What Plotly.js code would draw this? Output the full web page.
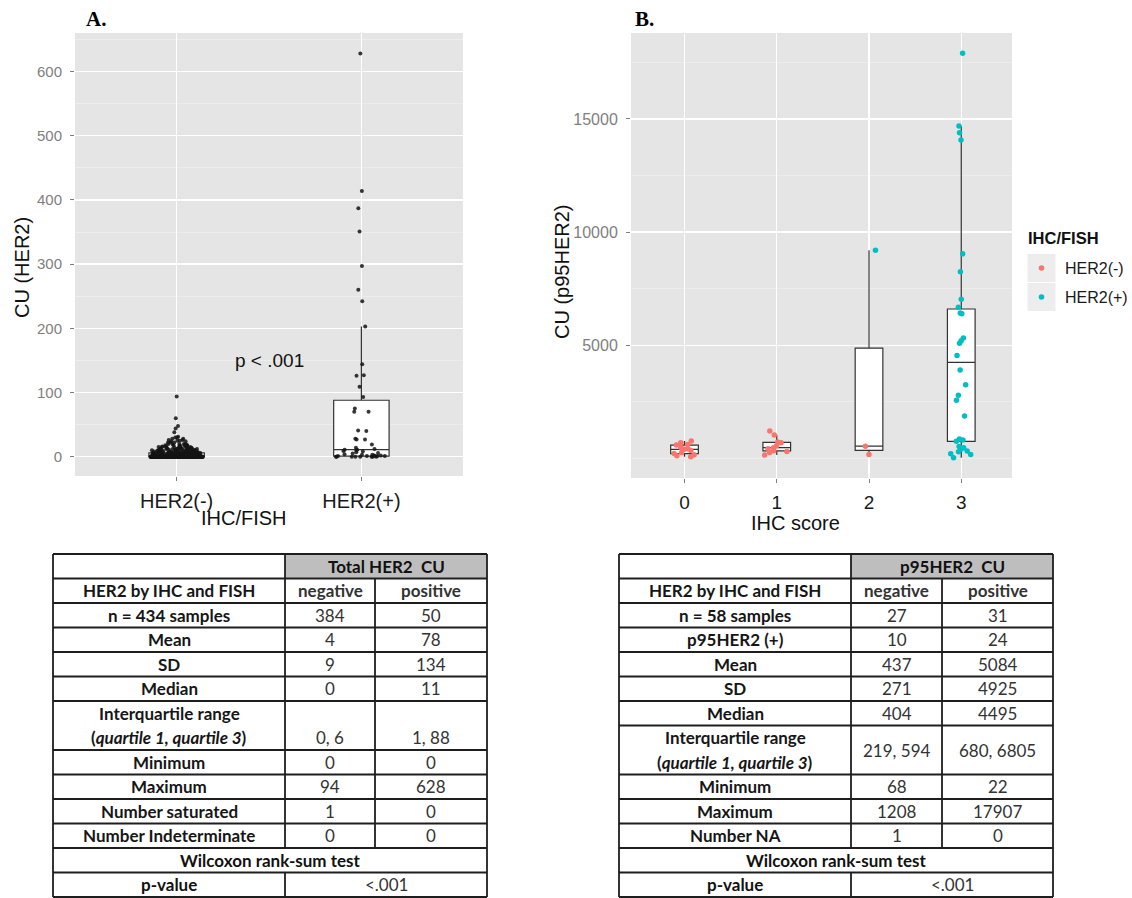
<!DOCTYPE html>
<html><head><meta charset="utf-8">
<script src="https://cdn.plot.ly/plotly-3.0.1.min.js"></script>
<style>body{margin:0;background:#fff}#chart{width:1132px;height:898px}</style>
</head><body><div id="chart"></div>
<script>
// ================= DATA =================
// Panel A: total HER2 CU by IHC/FISH status
const groupsA = ['HER2(-)', 'HER2(+)'];
// HER2(-) sample values as a frequency table (value, count) - 384 samples
const negValuesA = [0,1,2,3,4,5,6,7,8,9,10,11,12,13,14,15,16,17,18,19,20,22,24,25,26,28,30,31,38,44,48,60,94];
const negCountsA = [195,20,18,15,12,12,16,9,9,8,8,6,6,5,5,5,4,3,3,3,3,3,2,2,2,2,2,1,1,1,1,1,1];
// HER2(+) sample values - 50 samples
const posValuesA = [0,0,0,0,0,0,0,0,1,1,1,1,1,2,2,3,3,4,5,6,7,8,9,10,11,11,12,14,19,27,27,28,40,41,70,70,75,93,109,126,127,144,203,242,260,297,351,387,414,628];
// Box statistics A
const q1A = [0, 1];
const medianA = [0, 11];
const q3A = [6, 88];
const lowerA = [0, 0];
const upperA = [15, 203];
const pTextA = 'p < .001';
const yTicksA = [0, 100, 200, 300, 400, 500, 600];

// Panel B: p95HER2 CU by IHC score
const scoresB = ['0', '1', '2', '3'];
const redB0 = [68,110,160,210,260,340,395,420,480,585,610,690,760];
const redB1 = [140,250,300,330,420,470,550,690,720,1030,1208];
const redB2 = [168,533];
const tealB2 = [9200];
const tealB3 = [22,170,200,290,320,400,470,520,750,810,850,1870,2560,2790,3250,3900,4540,5080,5200,5320,6390,6420,6680,7030,8250,9040,14070,14390,14690,17907];
const q1B = [210, 323, 350, 747];
const medianB = [395, 470, 533, 4237];
const q3B = [585, 705, 4866, 6600];
const lowerB = [68, 140, 168, 22];
const upperB = [760, 1030, 9200, 14690];
const yTicksB = [5000, 10000, 15000];
const yTickTextB = ['5000', '10000', '15000'];
const legendTitleB = 'IHC/FISH';
const legendLabelsB = ['HER2(-)', 'HER2(+)'];

// Tables
const headerTA = 'Total HER2  CU';
const labelsTA = ['HER2 by IHC and FISH','n = 434 samples','Mean','SD','Median','Interquartile range<br>(<i>quartile 1, quartile 3</i>)','Minimum','Maximum','Number saturated','Number Indeterminate'];
const negTA = ['negative','384','4','9','0','0, 6','0','94','1','0'];
const posTA = ['positive','50','78','134','11','1, 88','0','628','0','0'];
const testTA = 'Wilcoxon rank-sum test';
const pRowTA = ['p-value', '<.001'];

const headerTB = 'p95HER2  CU';
const labelsTB = ['HER2 by IHC and FISH','n = 58 samples','p95HER2 (+)','Mean','SD','Median','Interquartile range<br>(<i>quartile 1, quartile 3</i>)','Minimum','Maximum','Number NA'];
const negTB = ['negative','27','10','437','271','404','219, 594','68','1208','1'];
const posTB = ['positive','31','24','5084','4925','4495','680, 6805','22','17907','0'];
const testTB = 'Wilcoxon rank-sum test';
const pRowTB = ['p-value', '<.001'];

// ================= BUILD =================
const W = 1132, H = 898;
const px = x => x / W;
const py = y => 1 - y / H;
const RED = '#F8766D', TEAL = '#00BFC4';
const SANS = 'Liberation Sans, Arial, sans-serif';
const TFONT = 'Lato, Open Sans, sans-serif';

function rep(v, n) { return Array.from({length: n}, () => v); }
const negSamplesA = [];
negValuesA.forEach((v, i) => { for (let k = 0; k < negCountsA[i]; k++) negSamplesA.push(v); });

const boxStyle = {type: 'box', fillcolor: '#FFFFFF', line: {color: '#333333', width: 1.2},
  whiskerwidth: 0, width: 0.3, hoverinfo: 'skip', showlegend: false};
const ptsStyle = {type: 'box', boxpoints: 'all', pointpos: 0, width: 0.3,
  fillcolor: 'rgba(0,0,0,0)', line: {color: 'rgba(0,0,0,0)', width: 0},
  whiskerwidth: 0, showlegend: false, hoveron: 'points'};

const traces = [
  Object.assign({}, boxStyle, {x: groupsA, q1: q1A, median: medianA, q3: q3A,
    lowerfence: lowerA, upperfence: upperA, xaxis: 'x', yaxis: 'y'}),
  Object.assign({}, ptsStyle, {x: rep(groupsA[0], negSamplesA.length).concat(rep(groupsA[1], posValuesA.length)),
    y: negSamplesA.concat(posValuesA), jitter: 0.95,
    marker: {color: 'rgba(20,20,20,0.85)', size: 4}, xaxis: 'x', yaxis: 'y'}),
  Object.assign({}, boxStyle, {x: scoresB, q1: q1B, median: medianB, q3: q3B,
    lowerfence: lowerB, upperfence: upperB, xaxis: 'x2', yaxis: 'y2'}),
  Object.assign({}, ptsStyle, {
    x: rep(scoresB[0], redB0.length).concat(rep(scoresB[1], redB1.length), rep(scoresB[2], redB2.length)),
    y: redB0.concat(redB1, redB2), jitter: 0.9,
    marker: {color: RED, size: 5.5}, xaxis: 'x2', yaxis: 'y2', name: legendLabelsB[0]}),
  Object.assign({}, ptsStyle, {
    x: rep(scoresB[2], tealB2.length).concat(rep(scoresB[3], tealB3.length)),
    y: tealB2.concat(tealB3), jitter: 0.9,
    marker: {color: TEAL, size: 5.5}, xaxis: 'x2', yaxis: 'y2', name: legendLabelsB[1]})
];

const shapes = [];
const annotations = [];
function ann(text, x, y, o) {
  o = o || {};
  annotations.push({text: text, x: px(x), y: py(y), xref: 'paper', yref: 'paper', showarrow: false,
    xanchor: o.xanchor || 'center', yanchor: o.yanchor || 'middle', textangle: o.angle || 0,
    font: {family: o.family || SANS, size: o.size || 16, color: o.color || '#000', weight: o.weight || 'normal'}});
}
function hline(x0, x1, y, c, w) { shapes.push({type: 'line', xref: 'paper', yref: 'paper', x0: px(x0), x1: px(x1), y0: py(y), y1: py(y), line: {color: c, width: w}}); }
function vline(x, y0, y1, c, w) { shapes.push({type: 'line', xref: 'paper', yref: 'paper', x0: px(x), x1: px(x), y0: py(y0), y1: py(y1), line: {color: c, width: w}}); }
function rect(x0, y0, x1, y1, fill, lc, lw) { shapes.push({type: 'rect', xref: 'paper', yref: 'paper', x0: px(x0), x1: px(x1), y0: py(y0), y1: py(y1), fillcolor: fill, line: {color: lc || 'rgba(0,0,0,0)', width: lw || 0}, layer: 'above'}); }

// ---------- table ----------
function drawTable(cols, top, unit, header, labels, neg, pos, test, pRow, valueAtBottom) {
  const [c0, c1, c2, c3] = cols;
  const LC = '#1e1e1e', LW = 1.8;
  const FS = 17;
  rect(c1, top, c3, top + unit, '#BEBEBE');
  ann(header, (c1 + c3) / 2, top + unit / 2, {family: TFONT, size: FS, weight: 'bold', color: '#111'});
  const bounds = [top, top + unit];
  let y = top + unit;
  labels.forEach((lab, i) => {
    const lines = lab.split('<br>');
    const n = lines.length;
    lines.forEach((ln, k) => ann(ln, (c0 + c1) / 2, y + (k + 0.5) * unit, {family: TFONT, size: FS, weight: 'bold', color: '#161616'}));
    const vy = (valueAtBottom && n > 1) ? y + (n - 0.5) * unit : y + n * unit / 2;
    ann(neg[i], (c1 + c2) / 2, vy, {family: TFONT, size: FS, color: '#333', weight: i === 0 ? 'bold' : 'normal'});
    ann(pos[i], (c2 + c3) / 2, vy, {family: TFONT, size: FS, color: '#333', weight: i === 0 ? 'bold' : 'normal'});
    y += n * unit;
    bounds.push(y);
  });
  const testTop = y;
  ann(test, (c0 + c3) / 2, y + unit / 2, {family: TFONT, size: FS, weight: 'bold', color: '#111'});
  y += unit; bounds.push(y);
  ann(pRow[0], (c0 + c1) / 2, y + unit / 2, {family: TFONT, size: FS, weight: 'bold', color: '#111'});
  ann(pRow[1], (c1 + c3) / 2, y + unit / 2, {family: TFONT, size: FS, color: '#333'});
  y += unit; bounds.push(y);
  bounds.forEach(b => hline(c0, c3, b, LC, LW));
  vline(c0, top, y, LC, LW); vline(c3, top, y, LC, LW);
  vline(c1, top, testTop, LC, LW); vline(c1, testTop + unit, y, LC, LW);
  vline(c2, top + unit, testTop, LC, LW);
}
drawTable([53, 285, 375, 487], 554, 24.5, headerTA, labelsTA, negTA, posTA, testTA, pRowTA, true);
drawTable([619, 851, 942, 1053], 554, 24.5, headerTB, labelsTB, negTB, posTB, testTB, pRowTB, false);

// ---------- chart texts ----------
ann('A.', 84, 19, {family: 'Liberation Serif, serif', size: 21, weight: 'bold', xanchor: 'left'});
ann('B.', 633, 19, {family: 'Liberation Serif, serif', size: 21, weight: 'bold', xanchor: 'left'});
ann('CU (HER2)', 22, 268, {size: 20, angle: -90, color: '#111'});
ann('IHC/FISH', 244, 518, {size: 20, color: '#111'});
ann('CU (p95HER2)', 562, 272, {size: 20, angle: -90, color: '#111'});
ann('IHC score', 795, 523, {size: 20, color: '#111'});
annotations.push({text: pTextA, x: 0.5, y: 150, xref: 'x', yref: 'y', showarrow: false,
  font: {family: SANS, size: 19, color: '#111'}});

// ---------- legend (panel B) ----------
ann(legendTitleB, 1026, 238, {size: 16.5, weight: 'bold', xanchor: 'left', color: '#111'});
[RED, TEAL].forEach((c, i) => {
  const yc = 268 + i * 29;
  rect(1027, yc - 14.5, 1056, yc + 14.5, '#EDEDED', '#FFFFFF', 1);
  shapes.push({type: 'circle', xref: 'paper', yref: 'paper', x0: px(1041.5 - 2.8), x1: px(1041.5 + 2.8),
    y0: py(yc + 2.8), y1: py(yc - 2.8), fillcolor: c, line: {width: 0}, layer: 'above'});
  ann(legendLabelsB[i], 1063, yc, {size: 16, xanchor: 'left', color: '#1a1a1a'});
});

// ---------- axes ----------
const gridMajor = {showgrid: true, gridcolor: '#FFFFFF', gridwidth: 1.3, zeroline: false, showline: false,
  ticks: 'outside', ticklen: 4, tickwidth: 1, tickcolor: '#7F7F7F'};
const layout = {
  width: W, height: H, margin: {l: 0, r: 0, t: 0, b: 0},
  paper_bgcolor: '#FFFFFF', plot_bgcolor: '#E5E5E5',
  boxmode: 'overlay', showlegend: false,
  xaxis: Object.assign({}, gridMajor, {domain: [px(75), px(463)], anchor: 'y', type: 'category',
    categoryorder: 'array', categoryarray: groupsA, range: [-0.55, 1.55],
    tickfont: {family: SANS, size: 20, color: '#1a1a1a'}, ticklabelstandoff: 3}),
  yaxis: Object.assign({}, gridMajor, {domain: [py(476), py(33)], anchor: 'x', range: [-30, 660],
    tickmode: 'array', tickvals: yTicksA, ticktext: yTicksA.map(String),
    tickfont: {family: SANS, size: 15, color: '#808080'}, ticklabelstandoff: 5,
    minor: {tickmode: 'linear', tick0: 0, dtick: 50, showgrid: true, gridcolor: '#F2F2F2', gridwidth: 0.6, ticks: ''}}),
  xaxis2: Object.assign({}, gridMajor, {domain: [px(631), px(1012)], anchor: 'y2', type: 'category',
    categoryorder: 'array', categoryarray: scoresB, range: [-0.58, 3.55],
    tickfont: {family: SANS, size: 19, color: '#1a1a1a'}, ticklabelstandoff: 3}),
  yaxis2: Object.assign({}, gridMajor, {domain: [py(478), py(33)], anchor: 'x2', range: [-872, 18801],
    tickmode: 'array', tickvals: yTicksB, ticktext: yTickTextB,
    tickfont: {family: SANS, size: 16, color: '#808080'}, ticklabelstandoff: 5,
    minor: {tickmode: 'linear', tick0: 0, dtick: 2500, showgrid: true, gridcolor: '#F2F2F2', gridwidth: 0.6, ticks: ''}}),
  shapes: shapes,
  annotations: annotations
};

Plotly.newPlot('chart', traces, layout, {displayModeBar: false, staticPlot: true});
</script>
</body></html>
